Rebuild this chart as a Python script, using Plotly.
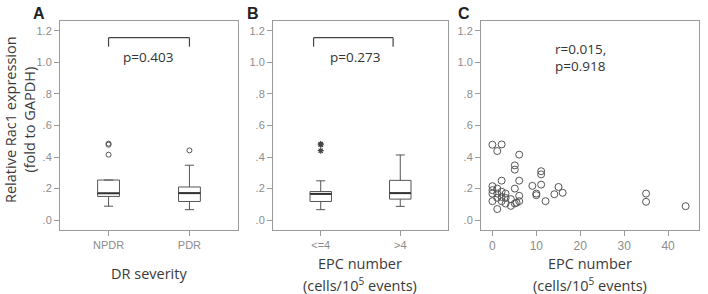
import plotly.graph_objects as go

W, H = 708, 294

# ---- data ----
cats_a = ["NPDR", "PDR"]
q1_a = [0.150, 0.118]
med_a = [0.170, 0.171]
q3_a = [0.254, 0.210]
lo_a = [0.088, 0.066]
hi_a = [0.254, 0.348]
out_a_x = [0, 0, 0, 1]
out_a_y = [0.478, 0.485, 0.415, 0.442]

cats_b = ["<=4", ">4"]
q1_b = [0.118, 0.133]
med_b = [0.166, 0.171]
q3_b = [0.181, 0.252]
lo_b = [0.066, 0.087]
hi_b = [0.249, 0.413]
out_b_x = [0, 0, 0]
out_b_y = [0.478, 0.483, 0.440]

epc_x = [0, 1.1, 2.1, 6.1, 5.1, 5.1, 2.1, 6.1, 11.1, 11.1, 9.1, 11.1, 10, 10, 12.1,
         14.1, 15.05, 16, 35, 35, 44,
         0, 0, 0, 0, 1.1, 1.1, 1.1, 1.1, 2.1, 2.1, 2.1, 3, 3, 3, 4.2, 4.2, 5.1, 5.1,
         6.1, 6.1, 5.5]
epc_y = [0.478, 0.438, 0.48, 0.415, 0.347, 0.32, 0.25, 0.25, 0.31, 0.29, 0.217, 0.225, 0.168, 0.158, 0.12,
         0.164, 0.21, 0.173, 0.168, 0.116, 0.088,
         0.215, 0.19, 0.168, 0.12, 0.2, 0.168, 0.141, 0.07, 0.18, 0.147, 0.12, 0.168, 0.14, 0.105,
         0.133, 0.09, 0.2, 0.105, 0.154, 0.12, 0.11]

ytickvals = [0, 0.2, 0.4, 0.6, 0.8, 1.0, 1.2]
yticktext = [".0", ".2", ".4", ".6", ".8", "1.0", "1.2"]
xtick_c = [0, 10, 20, 30, 40]

LINE = "#555555"
AXC = "#9a9a9a"
TICKF = dict(family="Liberation Sans, Arial", size=11, color="#8c8c8c")
TITLEF = dict(family="Open Sans", size=14.5, color="#3a3a3a")
BOXW = 0.27

def px(x):
    return x / W

def py(y):
    return 1 - y / H

fig = go.Figure()

def add_boxes(xa, ya, q1, med, q3, lo, hi):
    for i in range(len(q1)):
        fig.add_trace(go.Box(
            x=[i], q1=[q1[i]], median=[med[i]], q3=[q3[i]],
            lowerfence=[lo[i]], upperfence=[hi[i]],
            width=BOXW, whiskerwidth=0.42,
            line=dict(color=LINE, width=1), fillcolor="white",
            xaxis=xa, yaxis=ya, showlegend=False, hoverinfo="skip",
            boxpoints=False))
        fig.add_trace(go.Scatter(
            x=[i - BOXW / 2, i + BOXW / 2], y=[med[i], med[i]], mode="lines",
            line=dict(color="#333333", width=2), xaxis=xa, yaxis=ya,
            showlegend=False, hoverinfo="skip"))

add_boxes("x", "y", q1_a, med_a, q3_a, lo_a, hi_a)
fig.add_trace(go.Scatter(x=out_a_x, y=out_a_y, mode="markers",
                         marker=dict(symbol="circle-open", size=5, color=LINE, line=dict(width=1)),
                         xaxis="x", yaxis="y", showlegend=False))

add_boxes("x2", "y2", q1_b, med_b, q3_b, lo_b, hi_b)
fig.add_trace(go.Scatter(x=out_b_x, y=out_b_y, mode="markers",
                         marker=dict(symbol="asterisk-open", size=5, color="#444", line=dict(width=1.2, color="#444")),
                         xaxis="x2", yaxis="y2", showlegend=False))

fig.add_trace(go.Scatter(x=epc_x, y=epc_y, mode="markers",
                         marker=dict(symbol="circle-open", size=7, color=LINE, line=dict(width=1, color=LINE)),
                         xaxis="x3", yaxis="y3", showlegend=False))

ydom = [py(230), py(21)]
yr = [-0.063, 1.263]

def yaxis(dom_anchor):
    return dict(domain=ydom, range=yr, tickvals=ytickvals, ticktext=yticktext,
                ticks="outside", ticklen=5, tickcolor=AXC, tickfont=TICKF,
                showline=True, mirror=True, linecolor=AXC, linewidth=1,
                showgrid=False, zeroline=False, anchor=dom_anchor)

def xcat(dom, cats):
    return dict(domain=dom, range=[-0.6, 1.6], tickvals=[0, 1], ticktext=cats,
                ticks="outside", ticklen=5, tickcolor=AXC, tickfont=TICKF,
                showline=True, mirror=True, linecolor=AXC, linewidth=1,
                showgrid=False, zeroline=False)

fig.update_layout(
    width=W, height=H, margin=dict(l=0, r=0, t=0, b=0),
    paper_bgcolor="white", plot_bgcolor="white", showlegend=False,
    xaxis=dict(xcat([px(60), px(238)], cats_a), anchor="y"),
    yaxis=yaxis("x"),
    xaxis2=dict(xcat([px(273), px(448)], cats_b), anchor="y2"),
    yaxis2=yaxis("x2"),
    xaxis3=dict(domain=[px(481), px(699)], range=[-2.6, 47.05], tickvals=xtick_c,
                ticks="outside", ticklen=5, tickcolor=AXC, tickfont=dict(TICKF, size=12),
                showline=True, mirror=True, linecolor=AXC, linewidth=1,
                showgrid=False, zeroline=False, anchor="y3"),
    yaxis3=yaxis("x3"),
)

# significance brackets
def bracket(xref, yref, x0, x1):
    for xs, ys in [((x0, x0), (1.10, 1.157)), ((x0, x1), (1.157, 1.157)), ((x1, x1), (1.157, 1.10))]:
        fig.add_shape(type="line", xref=xref, yref=yref, x0=xs[0], x1=xs[1], y0=ys[0], y1=ys[1],
                      line=dict(color="#444", width=1.2))

bracket("x", "y", 0, 1)
bracket("x2", "y2", -0.09, 0.91)

ann = []
def txt(x, y, s, size=14, color="#333", bold=False, angle=0, family="Open Sans"):
    ann.append(dict(x=px(x), y=py(y), xref="paper", yref="paper", text=s, showarrow=False,
                    font=dict(family=family, size=size, color=color), textangle=angle,
                    xanchor="center", yanchor="middle"))

txt(148, 57, "p=0.403", 13.5)
txt(355, 57, "p=0.273", 13.5)
txt(580, 49, "r=0.015,", 13.5)
txt(580, 66, "p=0.918", 13.5)
txt(39, 13, "<b>A</b>", 16, "#222", family="Liberation Sans")
txt(253, 13, "<b>B</b>", 16, "#222", family="Liberation Sans")
txt(464, 13, "<b>C</b>", 16, "#222", family="Liberation Sans")
txt(20, 120, "Relative Rac1 expression<br>(fold to GAPDH)", 14.5, "#3a3a3a", angle=-90)
txt(149, 273, "DR severity", 14.5, "#3a3a3a")
txt(360, 263, "EPC number", 14.5, "#3a3a3a")
txt(360, 284, "(cells/10<sup>5</sup> events)", 14.5, "#3a3a3a")
txt(590, 263, "EPC number", 14.5, "#3a3a3a")
txt(590, 284, "(cells/10<sup>5</sup> events)", 14.5, "#3a3a3a")
fig.update_layout(annotations=ann)

fig.write_html("out.html")
